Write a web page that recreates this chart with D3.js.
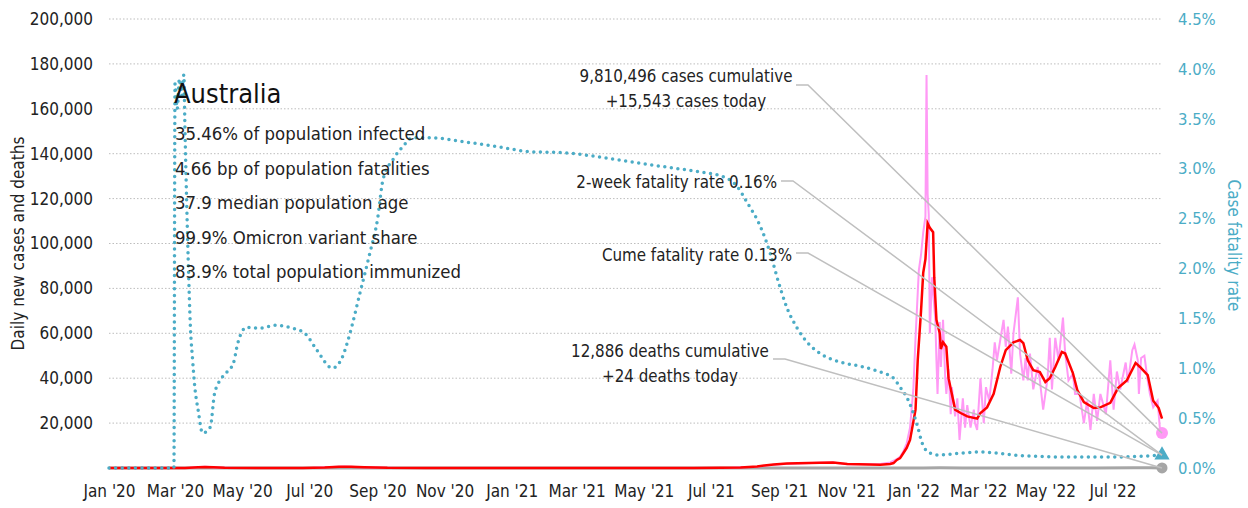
<!DOCTYPE html>
<html>
<head>
<meta charset="utf-8">
<script src="https://cdn.jsdelivr.net/npm/d3@7"></script>
<style>
  body { margin: 0; background: #fff; }
  svg text { font-family: "DejaVu Sans Condensed", "Liberation Sans", sans-serif; }
</style>
</head>
<body>
<svg id="chart" width="1248" height="508"></svg>
<script>
// daily new cases (raw)
let caseDates = ["2020-01-01","2020-03-15","2020-03-24","2020-03-29","2020-04-08","2020-04-25","2020-07-05","2020-07-22","2020-08-02","2020-08-12","2020-08-25","2020-09-20","2021-06-20","2021-07-20","2021-08-12","2021-08-27","2021-09-10","2021-10-08","2021-10-20","2021-11-02","2021-12-02","2021-12-11","2021-12-17","2021-12-20","2021-12-23","2021-12-26","2021-12-29","2022-01-01","2022-01-03","2022-01-05","2022-01-06","2022-01-08","2022-01-10","2022-01-12","2022-01-13","2022-01-14","2022-01-15","2022-01-16","2022-01-18","2022-01-21","2022-01-22","2022-01-23","2022-01-25","2022-01-26","2022-01-28","2022-01-30","2022-01-31","2022-02-02","2022-02-04","2022-02-05","2022-02-08","2022-02-10","2022-02-12","2022-02-14","2022-02-15","2022-02-17","2022-02-19","2022-02-22","2022-02-25","2022-02-26","2022-02-28","2022-03-03","2022-03-06","2022-03-08","2022-03-11","2022-03-14","2022-03-16","2022-03-18","2022-03-21","2022-03-24","2022-03-26","2022-03-28","2022-03-31","2022-04-02","2022-04-06","2022-04-08","2022-04-11","2022-04-13","2022-04-15","2022-04-17","2022-04-20","2022-04-24","2022-04-26","2022-04-29","2022-05-03","2022-05-05","2022-05-07","2022-05-10","2022-05-13","2022-05-17","2022-05-19","2022-05-22","2022-05-26","2022-05-28","2022-06-01","2022-06-05","2022-06-08","2022-06-11","2022-06-14","2022-06-17","2022-06-20","2022-06-25","2022-06-29","2022-07-02","2022-07-05","2022-07-08","2022-07-13","2022-07-15","2022-07-19","2022-07-21","2022-07-24","2022-07-25","2022-07-27","2022-07-30","2022-08-02","2022-08-04","2022-08-07","2022-08-11","2022-08-13","2022-08-15"];
let caseValues = [0,150,450,550,250,20,60,400,700,500,250,20,15,100,600,1500,1900,2300,2500,1700,1800,2500,4000,5000,7500,11000,18000,35000,58000,78000,88000,95000,105000,112000,175000,122000,113000,60000,85000,66000,48000,33000,65000,45000,66000,40000,33000,44000,24000,36000,23000,31000,12500,25000,31000,18000,28000,18000,26000,20000,17000,40000,20000,36000,30000,44000,56000,48000,57000,66000,54000,63000,42000,60000,76000,51000,39000,49000,39000,51000,35000,45000,39000,26000,40000,58000,35000,58000,48000,67000,51000,39000,42000,33000,33000,20000,30000,17000,33000,21000,33000,24000,48000,26000,43000,35000,47000,38000,52500,55000,48000,33000,49000,50000,39000,33000,27000,30000,18000,15543];

// 7-day average of cases
let avgDates = ["2020-01-01","2020-03-10","2020-03-22","2020-03-28","2020-04-05","2020-04-15","2020-05-15","2020-06-25","2020-07-15","2020-07-28","2020-08-08","2020-08-20","2020-09-10","2020-10-15","2021-06-15","2021-07-10","2021-07-28","2021-08-12","2021-08-27","2021-09-08","2021-10-08","2021-10-20","2021-11-02","2021-12-02","2021-12-11","2021-12-14","2021-12-17","2021-12-20","2021-12-23","2021-12-26","2021-12-29","2022-01-03","2022-01-05","2022-01-08","2022-01-10","2022-01-12","2022-01-14","2022-01-16","2022-01-19","2022-01-20","2022-01-22","2022-01-25","2022-01-26","2022-01-28","2022-01-31","2022-02-02","2022-02-05","2022-02-08","2022-02-13","2022-02-19","2022-02-28","2022-03-03","2022-03-09","2022-03-15","2022-03-21","2022-03-26","2022-04-02","2022-04-08","2022-04-11","2022-04-15","2022-04-20","2022-04-26","2022-05-01","2022-05-05","2022-05-10","2022-05-16","2022-05-19","2022-05-26","2022-05-30","2022-06-05","2022-06-14","2022-06-20","2022-06-29","2022-07-06","2022-07-14","2022-07-22","2022-07-26","2022-08-02","2022-08-07","2022-08-12","2022-08-15"];
let avgValues = [0,20,300,450,350,60,15,30,250,550,600,350,60,10,10,60,200,700,1600,2000,2300,2500,1800,1500,1800,2200,3600,4400,6700,9000,12500,26000,48000,70000,87000,93000,109000,107000,105000,85000,66000,60000,53000,56000,54000,40000,33000,26000,24500,23000,22000,24500,27000,33000,45000,52500,56000,57000,55600,48000,43600,42700,38300,40000,45000,51700,51000,42300,34700,29400,26700,27000,29000,35600,39000,46800,45000,41400,30000,26700,22000];

// daily deaths
let deathDates = ["2020-01-01","2020-03-20","2020-04-10","2020-05-20","2020-07-20","2020-08-10","2020-09-01","2020-10-10","2021-08-01","2021-09-15","2021-10-15","2021-12-01","2022-01-10","2022-01-25","2022-02-15","2022-03-20","2022-04-02","2022-04-10","2022-05-15","2022-06-15","2022-07-20","2022-08-05","2022-08-15"];
let deathValues = [0,3,5,1,8,18,12,1,2,10,12,3,50,80,40,20,35,25,45,40,80,70,24];

// case fatality rate, %
let cfrDates = ["2020-01-01","2020-02-29","2020-03-01","2020-03-03","2020-03-05","2020-03-07","2020-03-09","2020-03-10","2020-03-13","2020-03-15","2020-03-17","2020-03-19","2020-03-22","2020-03-26","2020-04-02","2020-04-06","2020-04-13","2020-04-23","2020-04-27","2020-05-05","2020-05-17","2020-05-31","2020-06-16","2020-06-27","2020-07-08","2020-07-22","2020-07-31","2020-08-07","2020-08-16","2020-08-25","2020-09-01","2020-09-06","2020-09-15","2020-09-24","2020-10-03","2020-10-19","2020-11-18","2020-12-19","2021-01-18","2021-02-17","2021-03-20","2021-04-19","2021-05-19","2021-06-19","2021-07-12","2021-07-25","2021-08-03","2021-08-15","2021-08-24","2021-08-31","2021-09-08","2021-09-17","2021-09-29","2021-10-08","2021-10-27","2021-11-14","2021-11-27","2021-12-05","2021-12-14","2021-12-20","2021-12-26","2021-12-31","2022-01-05","2022-01-09","2022-01-16","2022-01-24","2022-02-15","2022-03-03","2022-03-18","2022-04-02","2022-04-17","2022-05-17","2022-07-02","2022-08-15"];
let cfrValues = [0,0,3.85,3.6,3.9,3.7,3.94,3.42,2.08,1.41,1.08,0.81,0.58,0.35,0.41,0.75,0.91,1.05,1.25,1.41,1.40,1.43,1.40,1.35,1.18,1.00,1.11,1.35,1.75,2.15,2.49,2.89,3.09,3.22,3.31,3.31,3.27,3.22,3.17,3.16,3.12,3.07,3.02,2.97,2.92,2.82,2.66,2.42,2.15,1.88,1.61,1.41,1.23,1.15,1.06,1.02,0.98,0.95,0.90,0.81,0.71,0.58,0.41,0.25,0.15,0.13,0.15,0.16,0.15,0.13,0.12,0.11,0.11,0.13];

let leftTicks = [20000,40000,60000,80000,100000,120000,140000,160000,180000,200000];
let rightTicks = [0,0.5,1,1.5,2,2.5,3,3.5,4,4.5];
let monthTicks = ["2020-01-01","2020-03-01","2020-05-01","2020-07-01","2020-09-01","2020-11-01","2021-01-01","2021-03-01","2021-05-01","2021-07-01","2021-09-01","2021-11-01","2022-01-01","2022-03-01","2022-05-01","2022-07-01"];

let statLines = ["35.46% of population infected","4.66 bp of population fatalities","37.9 median population age","99.9% Omicron variant share","83.9% total population immunized"];

let parse = d3.timeParse("%Y-%m-%d");

let svg = d3.select("#chart"),
    margin = {top: 19, right: 86, bottom: 40, left: 109},
    width = +svg.attr("width") - margin.left - margin.right,
    height = +svg.attr("height") - margin.top - margin.bottom;

let g = svg.append("g").attr("transform", "translate(" + margin.left + "," + margin.top + ")");

let x = d3.scaleTime().domain([parse("2020-01-01"), parse("2022-08-15")]).range([0, width]);
let y = d3.scaleLinear().domain([0, 200000]).range([height, 0]);
let y2 = d3.scaleLinear().domain([0, 4.5]).range([height, 0]);

function zip(dates, vals) {
    return dates.map(function(d, i) { return {date: parse(d), v: vals[i]}; });
}

let cases = zip(caseDates, caseValues),
    avg = zip(avgDates, avgValues),
    deaths = zip(deathDates, deathValues),
    cfr = zip(cfrDates, cfrValues);

// dotted grid
g.append("g")
    .selectAll("line")
    .data(leftTicks)
    .enter().append("line")
    .attr("x1", 0).attr("x2", width)
    .attr("y1", function(d) { return y(d); })
    .attr("y2", function(d) { return y(d); })
    .attr("stroke", "#bdbdbd")
    .attr("stroke-width", 1)
    .attr("stroke-dasharray", "1.5,2");

// left axis
let yAx = g.append("g")
    .call(d3.axisLeft(y).tickValues(leftTicks).tickFormat(d3.format(",")).tickSize(0).tickPadding(16));
yAx.select(".domain").remove();
yAx.selectAll("text").attr("font-size", "17px").attr("fill", "#222");

// right axis
let y2Ax = g.append("g")
    .attr("transform", "translate(" + width + ",0)")
    .call(d3.axisRight(y2).tickValues(rightTicks).tickFormat(function(d) { return d.toFixed(1) + "%"; }).tickSize(0).tickPadding(16));
y2Ax.select(".domain").remove();
y2Ax.selectAll("text").attr("font-size", "16.5px").attr("fill", "#4bacc6");

// x axis
let xAx = g.append("g")
    .attr("transform", "translate(0," + height + ")")
    .call(d3.axisBottom(x).tickValues(monthTicks.map(parse)).tickFormat(d3.timeFormat("%b '%y")).tickSize(0).tickPadding(17));
xAx.select(".domain").remove();
xAx.selectAll("text").attr("font-size", "17px").attr("fill", "#222");

// axis titles
svg.append("text")
    .attr("transform", "translate(24," + (margin.top + height / 2) + ") rotate(-90)")
    .attr("text-anchor", "middle")
    .attr("font-size", "17px")
    .attr("fill", "#222")
    .text("Daily new cases and deaths");

svg.append("text")
    .attr("transform", "translate(1228," + (margin.top + height / 2 + 2) + ") rotate(90)")
    .attr("text-anchor", "middle")
    .attr("font-size", "17px")
    .attr("fill", "#4bacc6")
    .text("Case fatality rate");

// lines
let line = d3.line().x(function(d) { return x(d.date); }).y(function(d) { return y(d.v); });
let line2 = d3.line().x(function(d) { return x(d.date); }).y(function(d) { return y2(d.v); }).curve(d3.curveMonotoneX);

g.append("path").datum(deaths)
    .attr("fill", "none").attr("stroke", "#a6a6a6").attr("stroke-width", 3)
    .attr("d", line);

g.append("path").datum(cases)
    .attr("fill", "none").attr("stroke", "#ff99f5").attr("stroke-width", 2)
    .attr("d", line);

g.append("path").datum(avg)
    .attr("fill", "none").attr("stroke", "#ff0000").attr("stroke-width", 2.5)
    .attr("d", line);

g.append("path").datum(cfr)
    .attr("fill", "none").attr("stroke", "#4bacc6").attr("stroke-width", 3.5)
    .attr("stroke-linecap", "round")
    .attr("stroke-dasharray", "0,6.6")
    .attr("d", line2);

// end markers
let lastCase = cases[cases.length - 1],
    lastCfr = cfr[cfr.length - 1],
    lastDeath = deaths[deaths.length - 1];

let pCase = [x(lastCase.date), y(lastCase.v)],
    pCfr = [x(lastCfr.date), y2(lastCfr.v)],
    pDeath = [x(lastDeath.date), y(lastDeath.v)];

// annotations
let notes = [
    {lines: ["9,810,496 cases cumulative", "+15,543 cases today"], tx: 686, ty: 82, anchor: "middle", lx: 796, ly: 85, to: pCase},
    {lines: ["2-week fatality rate 0.16%"], tx: 777, ty: 188, anchor: "end", lx: 781, ly: 181, to: pCfr},
    {lines: ["Cume fatality rate 0.13%"], tx: 792, ty: 261, anchor: "end", lx: 796, ly: 253, to: pCfr},
    {lines: ["12,886 deaths cumulative", "+24 deaths today"], tx: 670, ty: 357, anchor: "middle", lx: 773, ly: 359, to: pDeath}
];

notes.forEach(function(n) {
    svg.append("polyline")
        .attr("points", [[n.lx, n.ly], [n.lx + 12, n.ly], [n.to[0] + margin.left, n.to[1] + margin.top]].join(" "))
        .attr("fill", "none")
        .attr("stroke", "#bfbfbf")
        .attr("stroke-width", 1.5);
    n.lines.forEach(function(t, i) {
        svg.append("text")
            .attr("x", n.tx)
            .attr("y", n.ty + i * 25)
            .attr("text-anchor", n.anchor)
            .attr("font-size", "16.8px")
            .attr("fill", "#222")
            .text(t);
    });
});

g.append("circle").attr("cx", pDeath[0]).attr("cy", pDeath[1]).attr("r", 5.5).attr("fill", "#a6a6a6");
g.append("circle").attr("cx", pCase[0]).attr("cy", pCase[1]).attr("r", 6).attr("fill", "#ff99f5");
g.append("path")
    .attr("d", d3.symbol().type(d3.symbolTriangle).size(100))
    .attr("transform", "translate(" + pCfr[0] + "," + pCfr[1] + ")")
    .attr("fill", "#4bacc6");

// country block
svg.append("text")
    .attr("x", 174).attr("y", 103)
    .attr("font-size", "27px")
    .attr("fill", "#111")
    .text("Australia");

svg.selectAll(".stat")
    .data(statLines)
    .enter().append("text")
    .attr("class", "stat")
    .attr("x", 175)
    .attr("y", function(d, i) { return 140 + i * 34.5; })
    .attr("font-size", "18.4px")
    .attr("fill", "#222")
    .text(function(d) { return d; });
</script>
</body>
</html>
